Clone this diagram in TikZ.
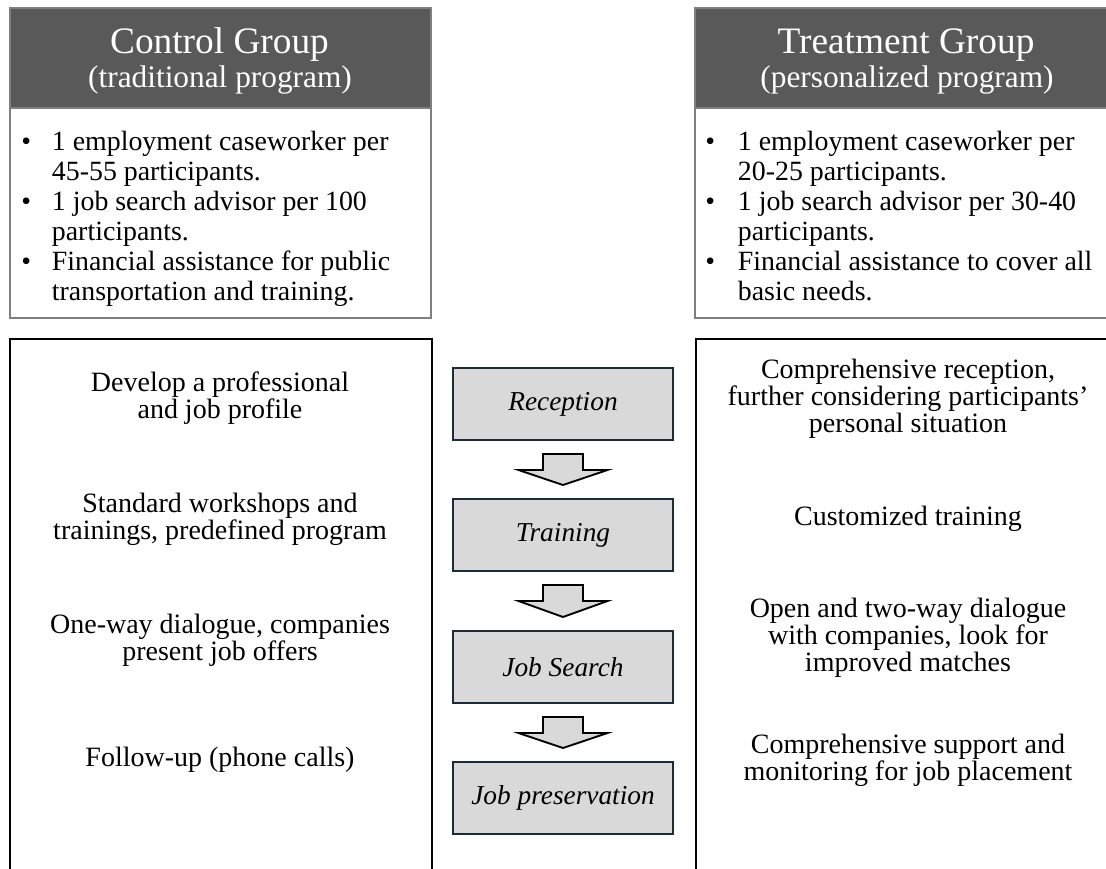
\documentclass[tikz,border=0pt]{standalone}
\usepackage{fontspec}
\setmainfont{Liberation Serif}
\usetikzlibrary{calc}
\definecolor{hdrdark}{HTML}{595959}
\definecolor{hdrline}{HTML}{7F7F7F}
\definecolor{stepfill}{HTML}{D9D9D9}
\definecolor{stepline}{HTML}{1C2B39}
\newcommand{\blockarr}[2]{%
  \draw[blockarrow] ([shift={(-20,13)}]#1.south) -- ([shift={(20,13)}]#1.south)
    -- ([shift={(20,29)}]#1.south) -- ([shift={(44.5,29)}]#1.south)
    -- ([yshift=9.75pt]#2.north) -- ([shift={(-44.5,29)}]#1.south)
    -- ([shift={(-20,29)}]#1.south) -- cycle;}
\tikzset{
  hdrbox/.style={draw=hdrline, line width=1.5pt, fill=white, anchor=north west, inner sep=0pt},
  hdrtop/.style={draw=hdrline, line width=1.5pt, fill=hdrdark, anchor=north west, inner sep=0pt},
  titletext/.style={anchor=base, text=white, inner sep=0pt, font=\fontsize{28}{30}\selectfont},
  subtext/.style={anchor=base, text=white, inner sep=0pt, font=\fontsize{23.5}{25}\selectfont},
  panel/.style={draw=black, line width=1.5pt, anchor=north west, inner sep=0pt},
  stepbox/.style={draw=stepline, line width=1.5pt, fill=stepfill, minimum width=165pt,
    minimum height=54pt, inner sep=0pt, font=\fontsize{20.5}{22}\selectfont\itshape},
  desc/.style={align=center, font=\fontsize{21}{20.25}\selectfont, inner sep=0pt},
  bullets/.style={anchor=base west, inner sep=0pt, font=\fontsize{20.9}{22.5}\selectfont},
  blockarrow/.style={draw=black, line width=1.4pt, fill=stepfill, line join=miter}
}
\begin{document}
\begin{tikzpicture}[x=0.75pt,y=-0.75pt]
\useasboundingbox (0,0) rectangle (1106,868);
\clip (0,0) rectangle (1106,868);
% headers
\node[hdrbox, minimum width=315.75pt, minimum height=232.5pt] (lhead) at (9,7) {};
\node[hdrtop, minimum width=315.75pt, minimum height=75pt] (ltop) at (9,7) {};
\node[titletext] (ltitle) at (219.5,53) {Control Group};
\node[subtext] (lsub) at (220,87) {(traditional program)};
\node[bullets] (llist) at (21,150) {%
  \begin{tabular}[t]{@{}p{23pt}@{}l@{}}
  \textbullet & 1 employment caseworker per\\
              & 45-55 participants.\\
  \textbullet & 1 job search advisor per 100\\
              & participants.\\
  \textbullet & Financial assistance for public\\
              & transportation and training.
  \end{tabular}};

\node[hdrbox, minimum width=321pt, minimum height=232.5pt] (rhead) at (694,7) {};
\node[hdrtop, minimum width=321pt, minimum height=75pt] (rtop) at (694,7) {};
\node[titletext] (rtitle) at (906,53) {Treatment Group};
\node[subtext] (rsub) at (907,87) {(personalized program)};
\node[bullets] (rlist) at (705,150) {%
  \begin{tabular}[t]{@{}p{24.5pt}@{}l@{}}
  \textbullet & 1 employment caseworker per\\
              & 20-25 participants.\\
  \textbullet & 1 job search advisor per 30-40\\
              & participants.\\
  \textbullet & Financial assistance to cover all\\
              & basic needs.
  \end{tabular}};

% lower panels
\node[panel, minimum width=316.5pt, minimum height=420pt] (lpanel) at (9,338) {};
\node[panel, minimum width=320.25pt, minimum height=420pt] (rpanel) at (695,338) {};

% centre steps
\node[stepbox] (rec) at (563,404) {Reception};
\node[stepbox] (tra) at (563,535) {Training};
\node[stepbox] (job) at (563,667) {Job Search};
\node[stepbox] (pre) at (563,798) {Job preservation};
\blockarr{rec}{tra}
\blockarr{tra}{job}
\blockarr{job}{pre}

% descriptions
\node[desc] (l1) at (220,398) {Develop a professional\\and job profile};
\node[desc] (l2) at (220,519) {Standard workshops and\\trainings, predefined program};
\node[desc] (l3) at (220,640) {One-way dialogue, companies\\present job offers};
\node[desc] (l4) at (220,760) {Follow-up (phone calls)};

\node[desc] (r1) at (908,399) {Comprehensive reception,\\further considering participants'\\personal situation};
\node[desc] (r2) at (908,519) {Customized training};
\node[desc] (r3) at (908,638) {Open and two-way dialogue\\with companies, look for\\improved matches};
\node[desc] (r4) at (908,760) {Comprehensive support and\\monitoring for job placement};
\end{tikzpicture}
\end{document}
